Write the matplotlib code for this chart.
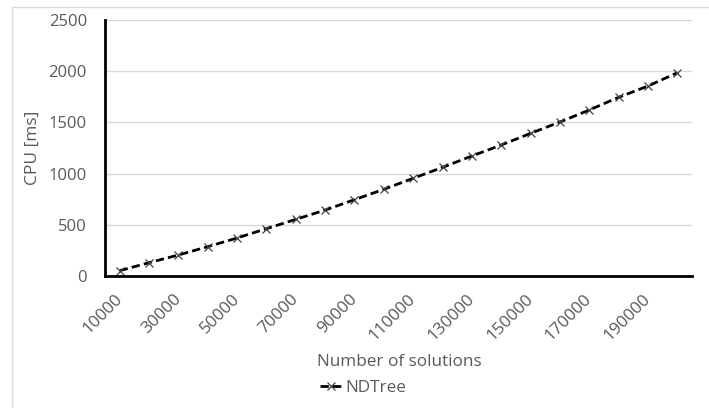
import numpy as np
import matplotlib
matplotlib.use("Agg")
import matplotlib.pyplot as plt
import matplotlib.transforms as mtransforms
from matplotlib.patches import Rectangle

solutions = [10000, 20000, 30000, 40000, 50000, 60000, 70000, 80000, 90000, 100000,
             110000, 120000, 130000, 140000, 150000, 160000, 170000, 180000, 190000, 200000]
cpu_ms = [52, 130, 205, 286, 371, 462, 553, 644, 745, 847,
          954, 1061, 1172, 1279, 1393, 1504, 1621, 1745, 1855, 1985]

plt.rcParams['font.family'] = ['Open Sans', 'DejaVu Sans']
grey = '#595959'

fig = plt.figure(figsize=(7.09, 4.08), dpi=100)
W, H = 709, 408
ax = fig.add_axes([105 / W, 1 - 276 / H, (692 - 105) / W, (276 - 20) / H])

# chart area border
fig.patches.append(Rectangle((12 / W, -0.1), 1.2, 1 - 7 / H + 0.1, transform=fig.transFigure,
                             fill=False, edgecolor='#d9d9d9', linewidth=1))

x = np.arange(len(solutions))
ax.plot(x, cpu_ms, color='black', linestyle=(0, (3, 1.5)), linewidth=2,
        marker='x', markersize=6, markeredgecolor='#404040', markeredgewidth=0.9,
        label='NDTree')

ax.set_xlim(-0.5, len(solutions) - 0.5)
ax.set_ylim(0, 2500)
ax.set_yticks(range(0, 2501, 500))
ax.set_xticks(x[::2])
ax.set_xticklabels([str(s) for s in solutions[::2]], rotation=45, ha='right',
                   rotation_mode='anchor', color=grey, fontsize=12.3)
ax.tick_params(axis='y', colors=grey, labelsize=12, length=0, pad=13)
ax.tick_params(axis='x', length=0, pad=11)
# nudge the rotated labels a little left, like Excel places them
shift = mtransforms.ScaledTranslation(-4 / 72, 0, fig.dpi_scale_trans)
for lab in ax.get_xticklabels():
    lab.set_transform(lab.get_transform() + shift)
ax.grid(axis='y', color='#d9d9d9', linewidth=1)
ax.set_axisbelow(True)
for s in ['top', 'right']:
    ax.spines[s].set_visible(False)
for s in ['left', 'bottom']:
    ax.spines[s].set_color('black')
    ax.spines[s].set_linewidth(2)

fig.text(33 / W, 1 - 148 / H, 'CPU [ms]', color=grey, fontsize=12.5,
         rotation=90, ha='center', va='center')
fig.text(399 / W, 1 - 362 / H, 'Number of solutions', color=grey, fontsize=12.3,
         ha='center', va='center')
fig.legend(loc='center', bbox_to_anchor=(363 / W, 1 - 388 / H), frameon=False,
           fontsize=12.3, labelcolor=grey, handlelength=1.3, handletextpad=0.2,
           borderpad=0, borderaxespad=0)

fig.savefig('out.png', dpi=100)
